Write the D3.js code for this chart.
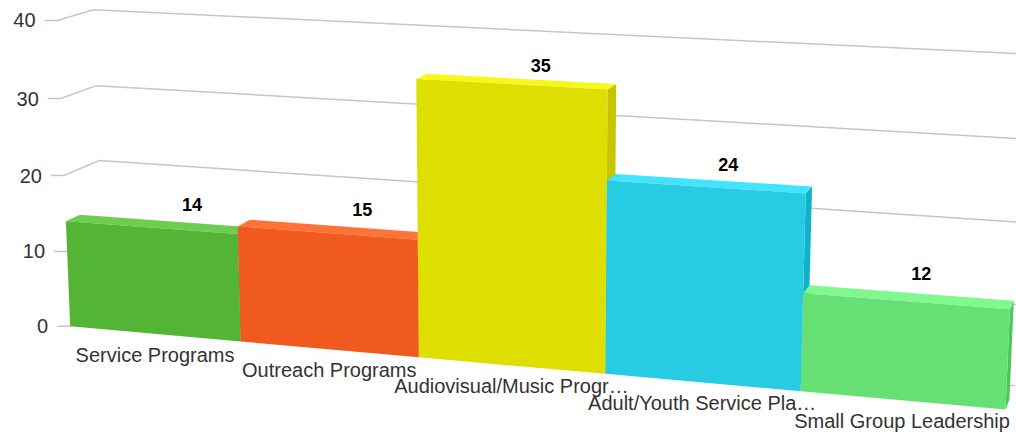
<!DOCTYPE html>
<html><head><meta charset="utf-8">
<script src="https://cdn.jsdelivr.net/npm/d3@7"></script>
<style>html,body{margin:0;padding:0;background:#fff;} svg{display:block;font-family:"Liberation Sans",Arial,sans-serif;}</style>
</head><body><svg id="c" width="1016" height="436"></svg>
<script>
const categories = ["Service Programs","Outreach Programs","Audiovisual/Music Progr…","Adult/Youth Service Pla…","Small Group Leadership"];
const values = [14,15,35,24,12];
const colors = ["#54b435","#f05a1e","#dede00","#27cce4","#66e075"];
const yTicks = [0,10,20,30,40];
const yMax = 40;

// 3D camera (perspective view): world width, frame depth, column depth, alpha, beta, view distance, scale, centre
const cam = { W: 2.9987, D: 0.2459, colDepth: 0.3952, alpha: 12.6201, beta: 17.3262, K: 7.6183, s: 325.9096, cx: 523.0316, cy: 197.9910 };
const labelDepth = 1.2559, labelLift = 1.8513, axisLabelDepth = 0.016, axisLabelDrop = 21.3067;

const x = d3.scaleBand().domain(categories).range([-cam.W/2, cam.W/2]).padding(0);
const y = d3.scaleLinear().domain([0, yMax]).range([0.5, -0.5]);
const z = d3.scaleLinear().domain([0, 1]).range([-cam.D/2, cam.D/2]);

const a = cam.alpha*Math.PI/180, b = cam.beta*Math.PI/180;
const cosA = Math.cos(a), sinA = Math.sin(a), cosB = Math.cos(b), sinB = Math.sin(-b);
function project(X, v, zf) {
  const Y = y(v), Z = z(zf);
  const x1 = cosB*X - sinB*Z;
  const y1 = -sinA*sinB*X + cosA*Y - cosB*sinA*Z;
  const z1 = cosA*sinB*X + sinA*Y + cosA*cosB*Z;
  const pr = cam.K/(z1 + cam.K);
  return [cam.cx + cam.s*x1*pr, cam.cy + cam.s*y1*pr];
}

const svg = d3.select("#c");
const x0All = -cam.W/2, x1All = cam.W/2;

// gridlines: tick, left wall, back wall
yTicks.forEach(t => {
  const f0 = project(x0All,t,0), b0 = project(x0All,t,1), b1 = project(x1All,t,1);
  svg.append("path").attr("d", d3.line()([[f0[0]-13,f0[1]], f0, b0, b1]))
    .attr("fill","none").attr("stroke","#c6c6c6").attr("stroke-width",1.5);
  svg.append("text").attr("x", f0[0]-22).attr("y", f0[1]).attr("dy","0.35em")
    .attr("text-anchor","end").attr("font-size",20).attr("fill","#333").text(t);
});

const line = d3.line();
categories.forEach((c,i) => {
  const v = values[i], xa = x(c), xb = xa + x.bandwidth(), fz = cam.colDepth;
  const col = d3.rgb(colors[i]);
  const br = (k) => d3.rgb(col.r+k, col.g+k, col.b+k).formatHex();
  const g = svg.append("g");
  g.append("path").attr("d", line([[xb,0,0],[xb,v,0],[xb,v,fz],[xb,0,fz]].map(q=>project(...q)))+"Z").attr("fill", br(-25));
  g.append("path").attr("d", line([[xa,v,0],[xb,v,0],[xb,v,fz],[xa,v,fz]].map(q=>project(...q)))+"Z").attr("fill", br(25));
  g.append("path").attr("d", line([[xa,0,0],[xb,0,0],[xb,v,0],[xa,v,0]].map(q=>project(...q)))+"Z").attr("fill", colors[i]);
});

categories.forEach((c,i) => {
  const xm = x(c) + x.bandwidth()/2;
  const q = project(xm, values[i], labelDepth);
  svg.append("text").attr("x", q[0]).attr("y", q[1]-labelLift).attr("dy","0.35em")
    .attr("text-anchor","middle").attr("font-size",18).attr("font-weight","bold").attr("fill","#000").text(values[i]);
  const qb = project(xm, 0, axisLabelDepth);
  svg.append("text").attr("x", qb[0]).attr("y", qb[1]+axisLabelDrop).attr("dy","0.35em")
    .attr("text-anchor","middle").attr("font-size",20).attr("fill","#333").text(c);
});
</script></body></html>
